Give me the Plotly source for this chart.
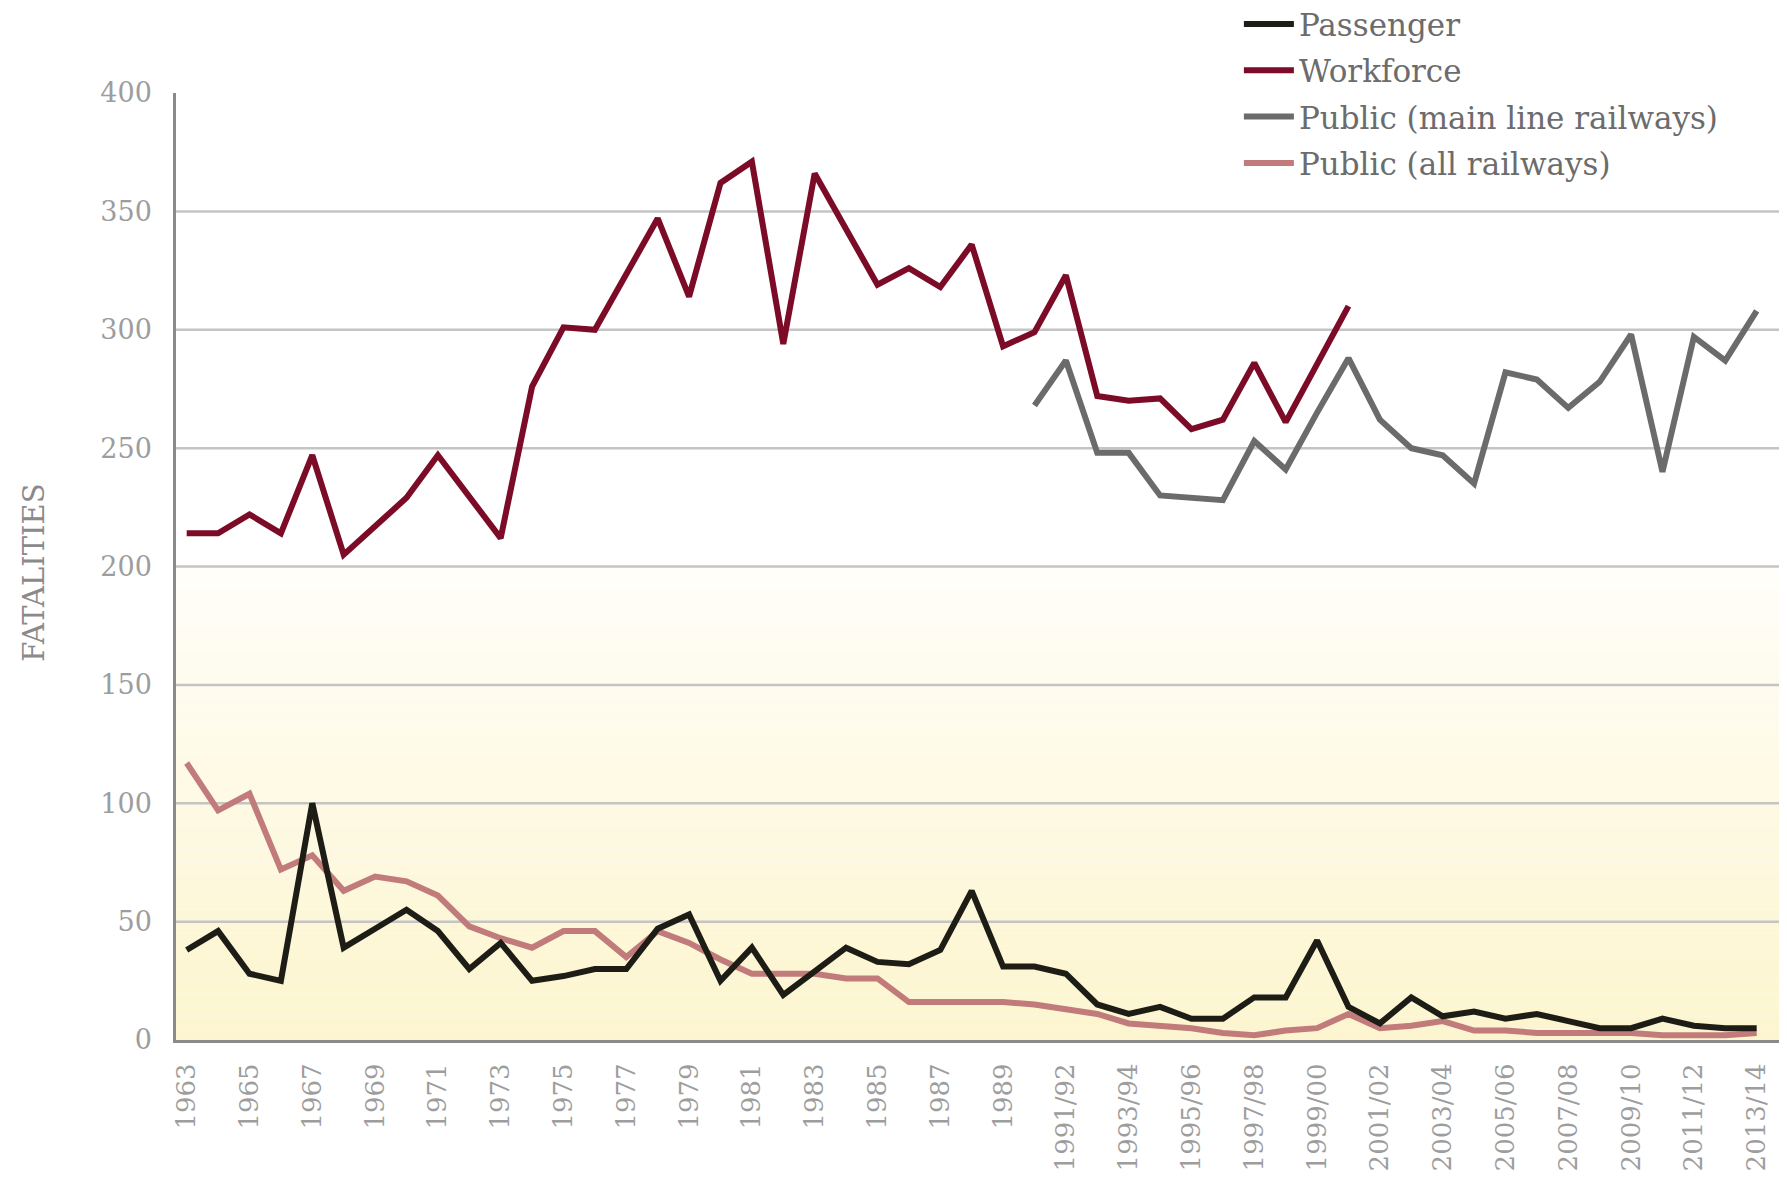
import plotly.graph_objects as go

# ---------------- data ----------------
categories = [
    "1963", "1964", "1965", "1966", "1967", "1968", "1969", "1970", "1971", "1972",
    "1973", "1974", "1975", "1976", "1977", "1978", "1979", "1980", "1981", "1982",
    "1983", "1984", "1985", "1986", "1987", "1988", "1989",
    "1990/91", "1991/92", "1992/93", "1993/94", "1994/95", "1995/96", "1996/97",
    "1997/98", "1998/99", "1999/00", "2000/01", "2001/02", "2002/03", "2003/04",
    "2004/05", "2005/06", "2006/07", "2007/08", "2008/09", "2009/10", "2010/11",
    "2011/12", "2012/13", "2013/14",
]

passenger = [38, 46, 28, 25, 100, 39, 47, 55, 46, 30, 41, 25, 27, 30, 30, 47, 53, 25,
             39, 19, 29, 39, 33, 32, 38, 63, 31,
             31, 28, 15, 11, 14, 9, 9, 18, 18, 42, 14, 7, 18, 10, 12, 9, 11, 8, 5, 5,
             9, 6, 5, 5]

workforce = [214, 214, 222, 214, 247, 205, 217, 229, 247, 229, 212, 276, 301, 300,
             323, 347, 314, 362, 371, 294, 366, 343, 319, 326, 318, 336, 293,
             299, 323, 272, 270, 271, 258, 262, 286, 261, 286, 310,
             None, None, None, None, None, None, None, None, None, None, None, None, None]

public_main_line = [None] * 27 + [268, 287, 248, 248, 230, 229, 228, 253, 241, 265, 288,
                                  262, 250, 247, 235, 282, 279, 267, 278, 298, 240, 297,
                                  287, 308]

public_all = [117, 97, 104, 72, 78, 63, 69, 67, 61, 48, 43, 39, 46, 46, 35, 46, 41, 34,
              28, 28, 28, 26, 26, 16, 16, 16, 16,
              15, 13, 11, 7, 6, 5, 3, 2, 4, 5, 11, 5, 6, 8, 4, 4, 3, 3, 3, 3, 2, 2, 2, 3]

x_tick_labels = ["1963", "1965", "1967", "1969", "1971", "1973", "1975", "1977", "1979",
                 "1981", "1983", "1985", "1987", "1989", "1991/92", "1993/94", "1995/96",
                 "1997/98", "1999/00", "2001/02", "2003/04", "2005/06", "2007/08",
                 "2009/10", "2011/12", "2013/14"]
y_tick_values = [0, 50, 100, 150, 200, 250, 300, 350, 400]

# ---------------- figure ----------------
fig = go.Figure()

LW = 6
fig.add_trace(go.Scatter(x=categories, y=public_all, mode="lines", name="Public (all railways)",
                         line=dict(color="#c27b7b", width=LW), legendrank=4,
                         legendgroup="g4"))
fig.add_trace(go.Scatter(x=categories, y=passenger, mode="lines", name="Passenger",
                         line=dict(color="#1d1d16", width=LW), legendrank=1,
                         legendgroup="g1"))
fig.add_trace(go.Scatter(x=categories, y=public_main_line, mode="lines",
                         name="Public (main line railways)",
                         line=dict(color="#6b6b6b", width=LW), legendrank=3,
                         legendgroup="g3"))
fig.add_trace(go.Scatter(x=categories, y=workforce, mode="lines", name="Workforce",
                         line=dict(color="#7b0b26", width=LW), legendrank=2,
                         legendgroup="g2"))

# background gradient (white at 200 -> pale yellow at 0)
shapes = []
n = 40
lo = (252, 245, 206)
hi = (255, 254, 249)
for k in range(n):
    y0 = 200 * k / n
    y1 = 200 * (k + 1) / n
    t = (k + 0.5) / n
    c = tuple(round(lo[j] + (hi[j] - lo[j]) * t) for j in range(3))
    shapes.append(dict(type="rect", xref="paper", yref="y", x0=0, x1=1, y0=y0, y1=y1,
                       fillcolor="rgb(%d,%d,%d)" % c, line=dict(width=0), layer="below"))
for v in y_tick_values[1:-1]:
    shapes.append(dict(type="line", xref="paper", yref="y", x0=0, x1=1, y0=v, y1=v,
                       line=dict(color="#c4c4c4", width=2.5), layer="below"))

# the page body adds an 8px offset, so the figure is sized to compensate
fig.update_layout(
    width=1779, height=1174,
    margin=dict(l=168, r=3, t=85, b=142, autoexpand=False),
    paper_bgcolor="white", plot_bgcolor="white",
    shapes=shapes,
    showlegend=True,
    legend=dict(
        x=0.661, y=1.101, xanchor="left", yanchor="top",
        font=dict(family="DejaVu Serif", size=31, color="#6c6c6c"),
        bgcolor="rgba(0,0,0,0)", borderwidth=0,
        traceorder="grouped", tracegroupgap=3, itemwidth=50,
    ),
    xaxis=dict(
        type="category", categoryorder="array", categoryarray=categories,
        range=[-0.34, 50.87],
        tickmode="array", tickvals=x_tick_labels, ticktext=x_tick_labels,
        tickangle=-90, ticks="", ticklabelstandoff=10,
        tickfont=dict(family="DejaVu Serif", size=26, color="#9d9d9d"),
        showgrid=False, zeroline=False,
        showline=True, linecolor="#8a8a8a", linewidth=3,
    ),
    yaxis=dict(
        range=[0, 400], tickmode="array", tickvals=y_tick_values,
        ticks="", ticklabelstandoff=16,
        tickfont=dict(family="DejaVu Serif", size=27, color="#9d9d9d"),
        showgrid=False, zeroline=False,
        showline=True, linecolor="#8a8a8a", linewidth=2.5,
    ),
    annotations=[dict(
        text="FATALITIES", xref="paper", yref="paper", x=-0.088, y=0.494,
        xanchor="center", yanchor="middle", textangle=-90, showarrow=False,
        font=dict(family="DejaVu Serif", size=29, color="#8a8a8a"),
    )],
)

fig.write_html("out.html")
